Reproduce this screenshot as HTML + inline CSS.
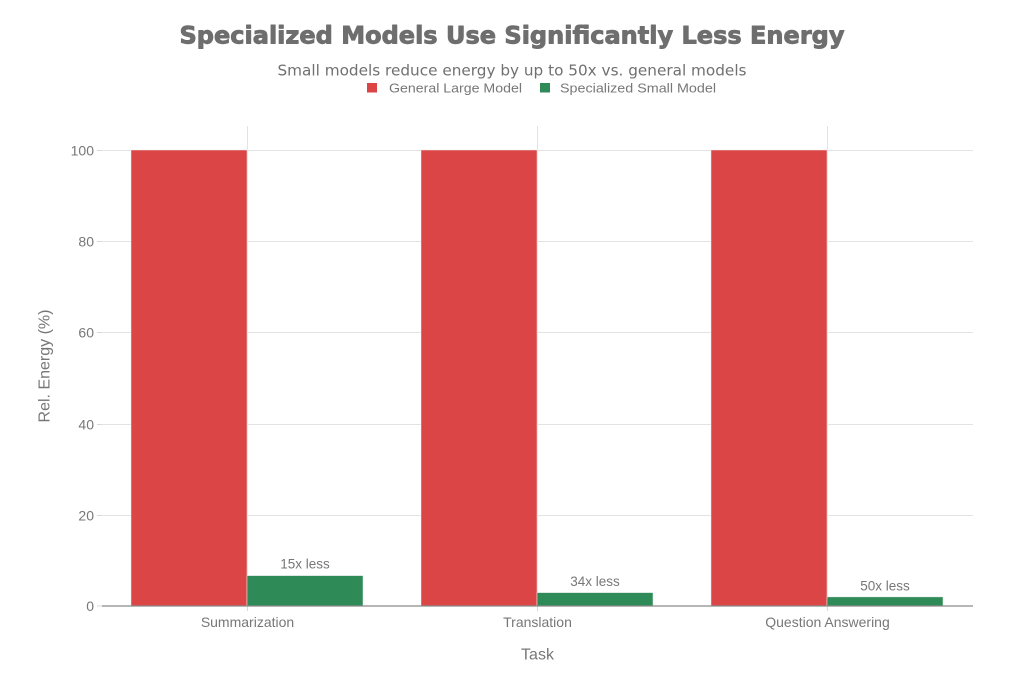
<!DOCTYPE html>
<html>
<head>
<meta charset="utf-8">
<style>
html,body{margin:0;padding:0;background:#fff;}
svg{display:block;}
</style>
</head>
<body>
<svg width="1024" height="683" viewBox="0 0 1024 683" xmlns="http://www.w3.org/2000/svg">
<rect width="1024" height="683" fill="#fff"/>
<!-- title -->
<text x="512" y="43.5" text-anchor="middle" font-family="DejaVu Sans, Liberation Sans, sans-serif" font-weight="bold" font-size="24" fill="#6e6e6e" stroke="#6e6e6e" stroke-width="0.9" stroke-linejoin="round" textLength="665" lengthAdjust="spacingAndGlyphs">Specialized Models Use Significantly Less Energy</text>
<text x="512" y="75.5" text-anchor="middle" font-family="DejaVu Sans, Liberation Sans, sans-serif" font-size="15" fill="#707070" textLength="469" lengthAdjust="spacingAndGlyphs">Small models reduce energy by up to 50x vs. general models</text>
<!-- legend -->
<rect x="367" y="83" width="10" height="9.5" fill="#db4545"/>
<text x="389" y="92.5" font-family="Liberation Sans, sans-serif" font-size="13" fill="#777" textLength="133" lengthAdjust="spacingAndGlyphs">General Large Model</text>
<rect x="540" y="83" width="10" height="9.5" fill="#2e8b57"/>
<text x="560" y="92.5" font-family="Liberation Sans, sans-serif" font-size="13" fill="#777" textLength="156" lengthAdjust="spacingAndGlyphs">Specialized Small Model</text>
<!-- grid -->
<g stroke="#e3e3e3" stroke-width="1">
<line x1="102" x2="973" y1="150.5" y2="150.5"/>
<line x1="102" x2="973" y1="241.5" y2="241.5"/>
<line x1="102" x2="973" y1="332.5" y2="332.5"/>
<line x1="102" x2="973" y1="424.5" y2="424.5"/>
<line x1="102" x2="973" y1="515.5" y2="515.5"/>
<line x1="247.5" x2="247.5" y1="126" y2="606"/>
<line x1="537.5" x2="537.5" y1="126" y2="606"/>
<line x1="827.5" x2="827.5" y1="126" y2="606"/>
</g>
<!-- y ticks -->
<g stroke="#d8d8d8" stroke-width="1">
<line x1="97" x2="102" y1="150.5" y2="150.5"/>
<line x1="97" x2="102" y1="241.5" y2="241.5"/>
<line x1="97" x2="102" y1="332.5" y2="332.5"/>
<line x1="97" x2="102" y1="424.5" y2="424.5"/>
<line x1="97" x2="102" y1="515.5" y2="515.5"/>
<line x1="97" x2="102" y1="606" y2="606"/>
<line x1="247.5" x2="247.5" y1="606" y2="611"/>
<line x1="537.5" x2="537.5" y1="606" y2="611"/>
<line x1="827.5" x2="827.5" y1="606" y2="611"/>
</g>
<g font-family="Liberation Sans, sans-serif" font-size="14" fill="#777" text-anchor="end">
<text x="94" y="155.5">100</text>
<text x="94" y="246.5">80</text>
<text x="94" y="337.5">60</text>
<text x="94" y="429.5">40</text>
<text x="94" y="520.5">20</text>
<text x="94" y="611">0</text>
</g>
<!-- bars -->
<g stroke="#eeeeee" stroke-width="0.5">
<rect x="131" y="150" width="116" height="456" fill="#db4545"/>
<rect x="247" y="575.6" width="116" height="30.4" fill="#2e8b57"/>
<rect x="421" y="150" width="116" height="456" fill="#db4545"/>
<rect x="537" y="592.6" width="116" height="13.4" fill="#2e8b57"/>
<rect x="711" y="150" width="116" height="456" fill="#db4545"/>
<rect x="827" y="596.9" width="116" height="9.1" fill="#2e8b57"/>
</g>
<!-- axis line -->
<line x1="102" x2="973" y1="606" y2="606" stroke="#8a8a8a" stroke-width="1.3"/>
<!-- bar labels -->
<g font-family="Liberation Sans, sans-serif" font-size="13.5" fill="#777" text-anchor="middle">
<text x="305" y="568.5">15x less</text>
<text x="595" y="586">34x less</text>
<text x="885" y="590.3">50x less</text>
</g>
<!-- x tick labels -->
<g font-family="Liberation Sans, sans-serif" font-size="14" fill="#777" text-anchor="middle">
<text x="247.5" y="627">Summarization</text>
<text x="537.5" y="627">Translation</text>
<text x="827.5" y="627">Question Answering</text>
</g>
<text x="537.5" y="659.5" text-anchor="middle" font-family="Liberation Sans, sans-serif" font-size="16" fill="#777">Task</text>
<text transform="translate(49.5,366) rotate(-90)" text-anchor="middle" font-family="Liberation Sans, sans-serif" font-size="16" fill="#777">Rel. Energy (%)</text>
</svg>
</body>
</html>
